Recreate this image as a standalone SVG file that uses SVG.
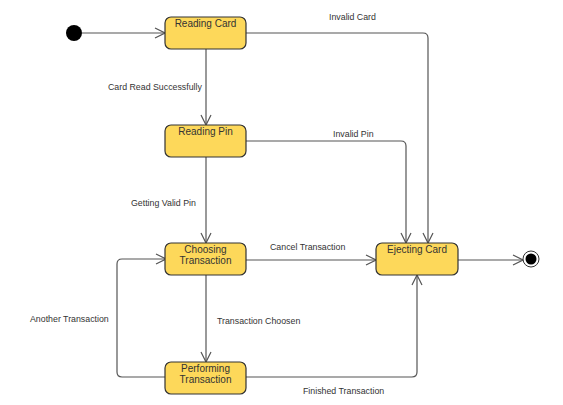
<svg xmlns="http://www.w3.org/2000/svg" width="563" height="405" viewBox="0 0 563 405">
<defs>
<style>
.node rect{fill:#fdd85a;stroke:#333;stroke-width:1.2}
.nt{font-family:"Liberation Sans",Arial,sans-serif;font-size:10px;fill:#333;text-anchor:middle}
.lbl{font-family:"Liberation Sans",Arial,sans-serif;font-size:8.8px;fill:#333}
.edge{fill:none;stroke:#555;stroke-width:1.2}
</style>
<marker id="arr" viewBox="0 0 12 12" refX="11" refY="6" markerWidth="12" markerHeight="12" markerUnits="userSpaceOnUse" orient="auto">
<path d="M1,1 L11,6 L1,11" fill="none" stroke="#555" stroke-width="1.2"/>
</marker>
</defs>
<rect width="563" height="405" fill="#fff"/>
<g id="connectors">
<path class="edge" d="M82,33 H165" marker-end="url(#arr)"/>
<path class="edge" d="M206,49 V125" marker-end="url(#arr)"/>
<path class="edge" d="M206,157 V243" marker-end="url(#arr)"/>
<path class="edge" d="M206,275 V362" marker-end="url(#arr)"/>
<path class="edge" d="M246,33 H423 Q428,33 428,38 V243" marker-end="url(#arr)"/>
<path class="edge" d="M246,141 H401 Q406,141 406,146 V243" marker-end="url(#arr)"/>
<path class="edge" d="M246,260 H376" marker-end="url(#arr)"/>
<path class="edge" d="M458,260 H523" marker-end="url(#arr)"/>
<path class="edge" d="M166,377 H122 Q117,377 117,372 V264 Q117,259 122,259 H166" marker-end="url(#arr)"/>
<path class="edge" d="M246,377 H412 Q417,377 417,372 V275" marker-end="url(#arr)"/>
<text class="lbl" x="108" y="90">Card Read Successfully</text>
<text class="lbl" x="131" y="206">Getting Valid Pin</text>
<text class="lbl" x="329" y="20">Invalid Card</text>
<text class="lbl" x="333" y="137">Invalid Pin</text>
<text class="lbl" x="270" y="250">Cancel Transaction</text>
<text class="lbl" x="30" y="322">Another Transaction</text>
<text class="lbl" x="217" y="324">Transaction Choosen</text>
<text class="lbl" x="303" y="394">Finished Transaction</text>
</g>
<g id="start"><circle cx="74" cy="33" r="8" fill="#000"/></g>
<g id="end"><circle cx="531" cy="259" r="8" fill="#fff" stroke="#333" stroke-width="1"/><circle cx="531" cy="259" r="5.5" fill="#000"/></g>
<g id="reading-card" class="node"><rect x="165" y="17" width="81" height="32" rx="6"/><text class="nt" x="205.5" y="27">Reading Card</text></g>
<g id="reading-pin" class="node"><rect x="165" y="125" width="81" height="32" rx="6"/><text class="nt" x="205.5" y="135">Reading Pin</text></g>
<g id="choosing" class="node"><rect x="165" y="243" width="81" height="32" rx="6"/><text class="nt" x="205.5" y="253">Choosing</text><text class="nt" x="205.5" y="264">Transaction</text></g>
<g id="performing" class="node"><rect x="165" y="362" width="81" height="32" rx="6"/><text class="nt" x="205.5" y="372">Performing</text><text class="nt" x="205.5" y="383">Transaction</text></g>
<g id="ejecting" class="node"><rect x="376" y="243" width="82" height="32" rx="6"/><text class="nt" x="417" y="253">Ejecting Card</text></g>
</svg>
